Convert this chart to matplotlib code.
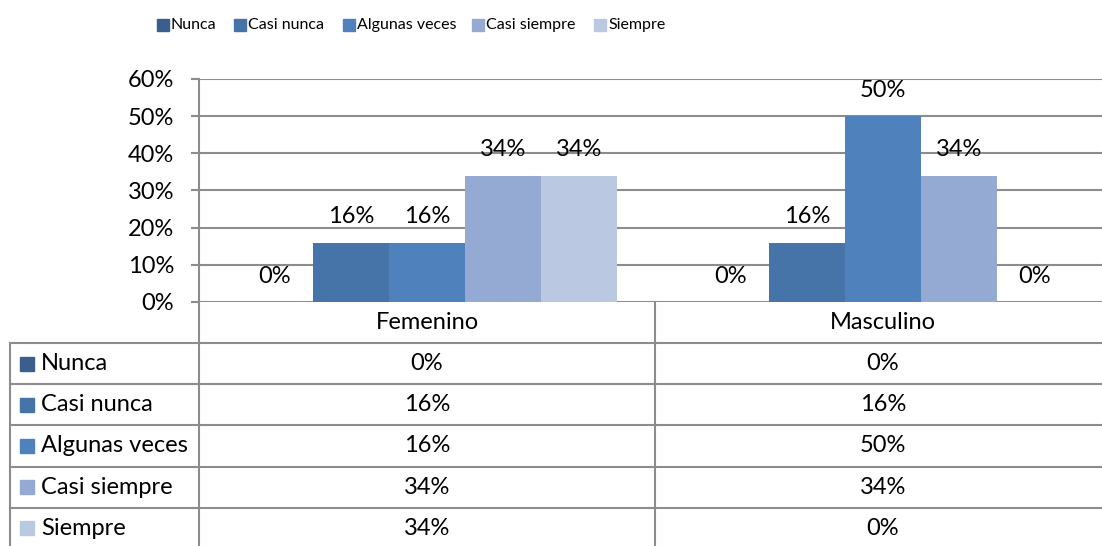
import numpy as np
import matplotlib
matplotlib.use('Agg')
import matplotlib.pyplot as plt
from matplotlib.ticker import FuncFormatter, MultipleLocator

plt.rcParams['font.family'] = ['Lato', 'DejaVu Sans']

#--data
categories = ['Femenino', 'Masculino']
series     = ['Nunca', 'Casi nunca', 'Algunas veces', 'Casi siempre', 'Siempre']
femenino   = [0.00, 0.16, 0.16, 0.34, 0.34]
masculino  = [0.00, 0.16, 0.50, 0.34, 0.00]
colors     = ['#3b5e8c', '#4673a8', '#4f81bd', '#95aad2', '#bbc8e1']

values = np.array([femenino, masculino])   # rows: categories
W, H = 1102, 546
grid = '#8c8c8c'
fs = 17

fig = plt.figure(figsize=(W/100, H/100), dpi=100)

#--bar axes (pixel layout), plot area runs a bit past the right edge
x0, cw, ytop, ybot = 199, 456, 79, 302
x1 = x0 + 2*cw
ax = fig.add_axes([x0/W, (H-ybot)/H, (x1-x0)/W, (ybot-ytop)/H])
ax.set_ylim(0, 0.6)
ax.set_xlim(-0.5, 1.5)
nb = len(series)
bw = 76/cw
for j, name in enumerate(series):
    xs = np.arange(len(categories)) + (j-(nb-1)/2)*bw
    ax.bar(xs, values[:, j], width=bw, color=colors[j], zorder=3)
    for xx, v in zip(xs, values[:, j]):
        ax.annotate('%d%%' % round(v*100), (xx, v), xytext=(0, 11), textcoords='offset points',
                    ha='center', va='bottom', fontsize=fs, zorder=4)

ax.yaxis.set_major_locator(MultipleLocator(0.1))
ax.yaxis.set_major_formatter(FuncFormatter(lambda v, p: '%d%%' % round(v*100)))
ax.grid(axis='y', color=grid, lw=1.5, zorder=1)
ax.set_xticks([])
for s in ['top', 'right', 'bottom']:
    ax.spines[s].set_visible(False)
ax.spines['left'].set_color(grid)
ax.spines['left'].set_linewidth(1.5)
ax.tick_params(axis='y', length=5.8, width=1.5, color=grid, labelsize=fs, pad=12)

#--table overlay in pixel coords
tb = fig.add_axes([0, 0, 1, 1])
tb.set_xlim(0, W)
tb.set_ylim(H, 0)
tb.axis('off')

col_mid = [x0 + cw/2, x0 + 1.5*cw]
rows = [343 + 41.2*i for i in range(6)]

tb.plot([x0, x0], [ybot, H], color=grid, lw=1.5)
tb.plot([x0+cw, x0+cw], [ybot, H], color=grid, lw=1.5)
tb.plot([10, 10], [rows[0], H], color=grid, lw=1.5)
for yy in rows[:-1]:
    tb.plot([10, W], [yy, yy], color=grid, lw=1.5)

for i, c in enumerate(categories):
    tb.text(col_mid[i], (ybot+rows[0])/2, c, ha='center', va='center', fontsize=fs)

for j, name in enumerate(series):
    yc = (rows[j] + rows[j+1])/2
    tb.add_patch(plt.Rectangle((20, yc-7), 14, 14, color=colors[j]))
    tb.text(41, yc, name, ha='left', va='center', fontsize=fs)
    for i in range(len(categories)):
        tb.text(col_mid[i], yc, '%d%%' % round(values[i, j]*100), ha='center', va='center', fontsize=fs)

#--legend
leg_x = [157, 234, 343, 472, 594]
for j, name in enumerate(series):
    tb.add_patch(plt.Rectangle((leg_x[j], 19), 12, 12, color=colors[j]))
    tb.text(leg_x[j]+14, 25, name, ha='left', va='center', fontsize=11.5)

fig.savefig('out.png', dpi=100)
